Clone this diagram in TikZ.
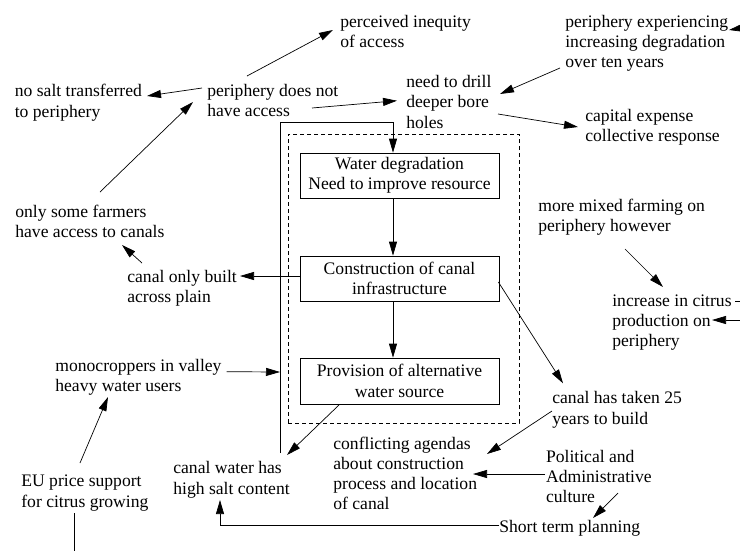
\documentclass[tikz,border=0pt]{standalone}
\usepackage{fontspec}
\setmainfont{Liberation Serif}
\usetikzlibrary{arrows.meta,calc}
\newcommand{\dfs}{\fontsize{17.6}{20.3}\selectfont}
\begin{document}
\begin{tikzpicture}[x=1pt,y=-1pt,line width=0.7pt,
  txt/.style={anchor=north west,inner sep=0pt,align=left,font=\dfs},
  procbox/.style={draw,minimum width=199pt,minimum height=45pt,inner sep=0pt,align=center,font=\dfs},
  arr/.style={-{Triangle[length=14pt,width=8pt]}},
  grpbox/.style={draw,dash pattern=on 4pt off 3pt,minimum width=231pt,minimum height=289pt,inner sep=0pt}]
\useasboundingbox (0,0) rectangle (740,550);
\fill[white] (0,0) rectangle (740,550);
\clip (0,0) rectangle (740,550);

% text nodes
\node[txt] (ineq)   at (340,15)    {perceived inequity\\of access};
\node[txt] (pexp)   at (565,14.5)  {periphery experiencing\\increasing degradation\\over ten years};
\node[txt] (nosalt) at (14.5,84)   {no salt transferred\\to periphery};
\node[txt] (pnot)   at (207,84)    {periphery does not\\have access};
\node[txt] (drill)  at (406,75)    {need to drill\\deeper bore\\holes};
\node[txt] (capex)  at (585,108.5) {capital expense\\collective response};
\node[txt] (somef)  at (15,204.7)  {only some farmers\\have access to canals};
\node[txt] (plain)  at (127,269.7) {canal only built\\across plain};
\node[txt] (mono)   at (55,358.7)  {monocroppers in valley\\heavy water users};
\node[txt] (mixed)  at (538,198.7) {more mixed farming on\\periphery however};
\node[txt] (citrus) at (612,294)   {increase in citrus\\production on\\periphery};
\node[txt] (taken)  at (552,391.3) {canal has taken 25\\years to build};
\node[txt] (confl)  at (333,436.3) {conflicting agendas\\about construction\\process and location\\of canal};
\node[txt] (polit)  at (545.7,449.7) {Political and\\Administrative\\culture};
\node[txt] (short)  at (499,519.7) {Short term planning};
\node[txt] (salt)   at (173,461.3) {canal water has\\high salt content};
\node[txt] (eu)     at (21,474.7)  {EU price support\\for citrus growing};

% process boxes
\node[grpbox] (grp) at (403.5,278.5) {};
\node[procbox] (b1) at (399.5,175.5) {Water degradation\\Need to improve resource};
\node[procbox] (b2) at (399.5,278.5) {Construction of canal\\infrastructure};
\node[procbox,minimum height=46pt] (b3) at (399.5,381) {Provision of alternative\\water source};

% off-picture ends
\coordinate (offA) at (760,25);
\coordinate (offB) at (760,301);
\coordinate (offC) at (760,320);
\coordinate (offD) at (74,560);

% connectors
\draw[arr] ($(pnot.north west)+(-5,4)$) -- ($(nosalt.north west)+(132.5,12)$);
\draw[arr] ($(pnot.north west)+(40,-8)$) -- ($(ineq.north west)+(-7,15)$);
\draw[arr] ($(pnot.north west)+(105,24)$) -- ($(drill.north west)+(-9,25.7)$);
\draw[arr] ($(somef.north west)+(85,-12.7)$) -- ($(pnot.north west)+(-14,18)$);
\draw[arr] ($(plain.north west)+(15,-6.7)$) -- ($(somef.north west)+(107,40.3)$);
\draw[arr] ($(b2.west)+(0,-2.5)$) -- ($(plain.north west)+(113,6.3)$);
\draw[arr] ($(drill.north west)+(92,39)$) -- ($(capex.north west)+(-7,18.5)$);
\draw[arr] ($(pexp.north west)+(-5,53.5)$) -- ($(drill.north west)+(94,19)$);
\draw[arr] (offA) -- ($(pexp.north west)+(164,15.5)$);
\draw[arr] ($(salt.north west)+(107,-8.3)$) -- ++(0,-331) -| ($(b1.north)+(-6.5,0)$);
\coordinate (vl) at ($(salt.north west)+(107,-89.3)$);
\draw[arr] ($(mono.north west)+(171.7,13)$) -- (vl);
\draw[arr] ($(b1.south)+(-6.5,0)$) -- ($(b2.north)+(-6.5,0)$);
\draw[arr] ($(b2.south)+(-6.5,0)$) -- ($(b3.north)+(-6.5,0)$);
\draw[arr] ($(b2.east)+(-1,3.5)$) -- ($(taken.north west)+(11,-8)$);
\draw[arr] ($(taken.north west)+(0,19.7)$) -- ($(confl.north west)+(154,17.7)$);
\draw[arr] ($(polit.north west)+(-0.7,24.3)$) -- ($(confl.north west)+(140,37.7)$);
\draw[arr] ($(polit.north west)+(72.3,43.3)$) -- ($(short.north west)+(94,-1.7)$);
\draw[arr] ($(short.north west)+(0,5.3)$) -| ($(salt.north west)+(47,38.7)$);
\draw[arr] ($(b3.south west)+(40,0)$) -- ($(salt.north west)+(114,-6.3)$);
\draw[arr] ($(eu.north west)+(59,-11.7)$) -- ($(mono.north west)+(53,38.3)$);
\draw ($(eu.north west)+(53,38.3)$) -- (offD);
\draw[arr] ($(mixed.north west)+(87,50.3)$) -- ($(citrus.north west)+(51,-7)$);
\draw ($(citrus.north west)+(123,7)$) -- (offB);
\draw[arr] (offC) -- ($(citrus.north west)+(100,26)$);
\end{tikzpicture}
\end{document}
